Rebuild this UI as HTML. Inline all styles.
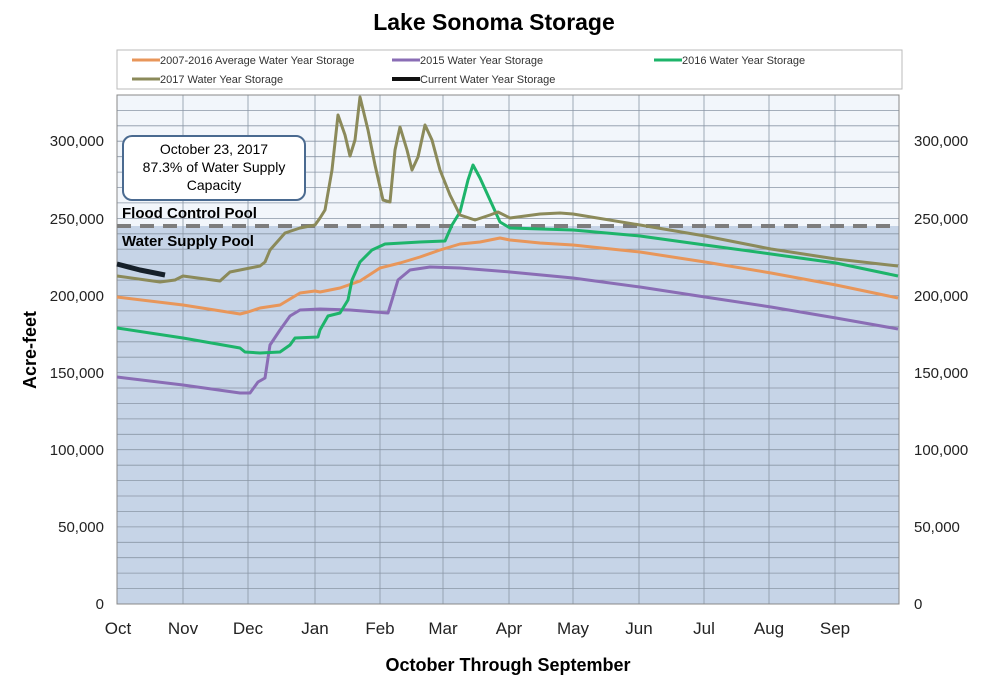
<!DOCTYPE html><html><head><style>body{margin:0;background:#fff}svg{font-family:"Liberation Sans",Arial,sans-serif}</style></head><body>
<svg width="988" height="685" xmlns="http://www.w3.org/2000/svg">
<text x="494" y="30" text-anchor="middle" font-size="23" font-weight="bold">Lake Sonoma Storage</text>
<rect x="117" y="50" width="785" height="39" fill="#fff" stroke="#bbb"/>
<g font-size="11" fill="#333">
<line x1="132" y1="60" x2="160" y2="60" stroke="#e8965a" stroke-width="3"/><text x="160" y="64">2007-2016 Average Water Year Storage</text>
<line x1="392" y1="60" x2="420" y2="60" stroke="#8a6db5" stroke-width="3"/><text x="420" y="64">2015 Water Year Storage</text>
<line x1="654" y1="60" x2="682" y2="60" stroke="#1db46a" stroke-width="3"/><text x="682" y="64">2016 Water Year Storage</text>
<line x1="132" y1="79" x2="160" y2="79" stroke="#8b8a5a" stroke-width="3"/><text x="160" y="83">2017 Water Year Storage</text>
<line x1="392" y1="79" x2="420" y2="79" stroke="#111" stroke-width="4"/><text x="420" y="83">Current Water Year Storage</text>
</g>
<rect x="117" y="95" width="782" height="131" fill="#f2f6fb"/>
<rect x="117" y="226" width="782" height="378" fill="#c6d4e7"/>
<g stroke="#8a96a6" stroke-width="0.8">
<line x1="117" x2="899" y1="110.4" y2="110.4"/><line x1="117" x2="899" y1="125.8" y2="125.8"/><line x1="117" x2="899" y1="141.2" y2="141.2"/><line x1="117" x2="899" y1="156.7" y2="156.7"/><line x1="117" x2="899" y1="172.1" y2="172.1"/><line x1="117" x2="899" y1="187.5" y2="187.5"/><line x1="117" x2="899" y1="202.9" y2="202.9"/><line x1="117" x2="899" y1="218.4" y2="218.4"/><line x1="117" x2="899" y1="233.8" y2="233.8"/><line x1="117" x2="899" y1="249.2" y2="249.2"/><line x1="117" x2="899" y1="264.6" y2="264.6"/><line x1="117" x2="899" y1="280.1" y2="280.1"/><line x1="117" x2="899" y1="295.5" y2="295.5"/><line x1="117" x2="899" y1="310.9" y2="310.9"/><line x1="117" x2="899" y1="326.3" y2="326.3"/><line x1="117" x2="899" y1="341.8" y2="341.8"/><line x1="117" x2="899" y1="357.2" y2="357.2"/><line x1="117" x2="899" y1="372.6" y2="372.6"/><line x1="117" x2="899" y1="388" y2="388"/><line x1="117" x2="899" y1="403.5" y2="403.5"/><line x1="117" x2="899" y1="418.9" y2="418.9"/><line x1="117" x2="899" y1="434.3" y2="434.3"/><line x1="117" x2="899" y1="449.7" y2="449.7"/><line x1="117" x2="899" y1="465.2" y2="465.2"/><line x1="117" x2="899" y1="480.6" y2="480.6"/><line x1="117" x2="899" y1="496" y2="496"/><line x1="117" x2="899" y1="511.4" y2="511.4"/><line x1="117" x2="899" y1="526.9" y2="526.9"/><line x1="117" x2="899" y1="542.3" y2="542.3"/><line x1="117" x2="899" y1="557.7" y2="557.7"/><line x1="117" x2="899" y1="573.1" y2="573.1"/><line x1="117" x2="899" y1="588.6" y2="588.6"/>
<line y1="95" y2="604" x1="183" x2="183"/><line y1="95" y2="604" x1="248" x2="248"/><line y1="95" y2="604" x1="315" x2="315"/><line y1="95" y2="604" x1="380" x2="380"/><line y1="95" y2="604" x1="443" x2="443"/><line y1="95" y2="604" x1="509" x2="509"/><line y1="95" y2="604" x1="573" x2="573"/><line y1="95" y2="604" x1="639" x2="639"/><line y1="95" y2="604" x1="704" x2="704"/><line y1="95" y2="604" x1="769" x2="769"/><line y1="95" y2="604" x1="835" x2="835"/>
</g>
<rect x="117" y="95" width="782" height="509" fill="none" stroke="#888"/>
<line x1="117" y1="226" x2="899" y2="226" stroke="#7d7d7d" stroke-width="4" stroke-dasharray="14,9"/>
<g fill="none" stroke-width="3" stroke-linejoin="round">
<polyline stroke="#e8965a" points="117,297 183,305 240,314 248,312 260,308 280,305 300,293 315,291 320,292 340,288 360,281 380,268 400,263 420,257 440,250 460,244 480,242 500,238 510,240 540,243 573,245 640,252 705,262 771,273 836,285 898,298"/>
<polyline stroke="#8a6db5" points="117,377 183,385 240,393 250,393 258,382 265,378 270,345 280,330 290,316 300,310 320,309 350,310 388,313 392,300 398,280 410,270 430,267 460,268 510,272 573,278 640,287 705,297 771,307 836,318 898,329"/>
<polyline stroke="#1db46a" points="117,328 183,338 240,348 245,352 260,353 280,352 290,345 295,338 318,337 320,330 328,316 340,313 348,300 352,280 360,262 372,250 385,244 420,242 445,241 452,225 460,212 468,180 473,165 480,178 490,200 500,222 510,228 573,230 640,236 705,245 771,254 836,263 898,276"/>
<polyline stroke="#8b8a5a" points="117,276 160,282 175,280 183,276 220,281 230,272 250,268 260,266 265,262 270,250 285,233 300,228 315,225 320,218 325,210 332,170 338,115 345,135 350,156 355,140 360,97 368,130 375,165 383,200 390,202 395,150 400,127 407,150 412,170 418,157 425,125 432,140 440,170 450,195 460,215 475,220 490,215 498,212 510,218 540,214 560,213 573,214 640,225 705,236 771,249 836,259 898,266"/>
<polyline stroke="#16202a" stroke-width="5" points="117,264 140,270 165,275"/>
</g>
<rect x="123" y="136" width="182" height="64" rx="9" fill="#fff" stroke="#4a6a90" stroke-width="2"/>
<g font-size="14" text-anchor="middle"><text x="214" y="154">October 23, 2017</text><text x="214" y="172">87.3% of Water Supply</text><text x="214" y="190">Capacity</text></g>
<g font-size="15" font-weight="bold"><text x="122" y="218">Flood Control Pool</text><text x="122" y="246">Water Supply Pool</text></g>
<g font-size="15" fill="#222" text-anchor="end">
<text x="104" y="146">300,000</text><text x="104" y="224">250,000</text><text x="104" y="301">200,000</text><text x="104" y="378">150,000</text><text x="104" y="455">100,000</text><text x="104" y="532">50,000</text><text x="104" y="609">0</text></g>
<g font-size="15" fill="#222">
<text x="914" y="146">300,000</text><text x="914" y="224">250,000</text><text x="914" y="301">200,000</text><text x="914" y="378">150,000</text><text x="914" y="455">100,000</text><text x="914" y="532">50,000</text><text x="914" y="609">0</text></g>
<g font-size="17" fill="#222" text-anchor="middle">
<text x="118" y="634">Oct</text><text x="183" y="634">Nov</text><text x="248" y="634">Dec</text><text x="315" y="634">Jan</text><text x="380" y="634">Feb</text><text x="443" y="634">Mar</text><text x="509" y="634">Apr</text><text x="573" y="634">May</text><text x="639" y="634">Jun</text><text x="704" y="634">Jul</text><text x="769" y="634">Aug</text><text x="835" y="634">Sep</text></g>
<text x="508" y="671" text-anchor="middle" font-size="18" font-weight="bold">October Through September</text>
<text transform="translate(36,350) rotate(-90)" text-anchor="middle" font-size="18" font-weight="bold">Acre-feet</text>
</svg></body></html>
